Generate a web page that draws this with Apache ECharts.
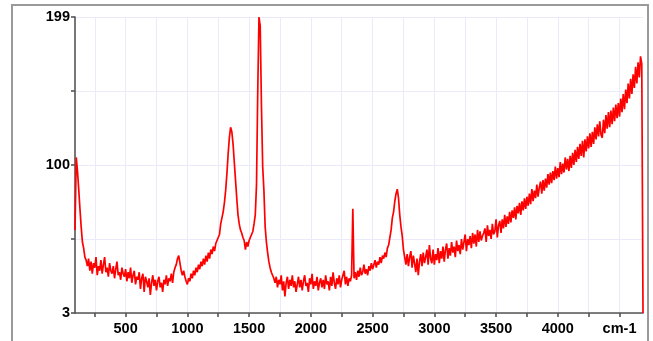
<!DOCTYPE html>
<html>
<head>
<meta charset="utf-8">
<script src="https://cdn.jsdelivr.net/npm/echarts@6.0.0/dist/echarts.min.js"></script>
<style>
  html, body { margin: 0; padding: 0; background: #fff; }
  #chart { width: 653px; height: 341px; }
</style>
</head>
<body>
<div id="chart"></div>
<script>
// wavenumber sampling (cm-1)
var waveStart = 90;
var waveStep = 10;
// intensity, one row = 200 cm-1
var intensity = [
  58,106,97,85,72,60,50,46,40,38,34,39,31,37,29,36,33,40,28,34,      // 90
  31,38,29,35,40,30,33,27,36,31,29,34,26,32,37,28,30,25,33,29,       // 290
  27,32,24,30,26,33,23,28,31,22,27,25,30,19,26,29,17,27,24,20,       // 490
  26,15,23,28,21,25,18,24,27,20,23,17,25,22,28,21,26,24,29,23,       // 690
  30,33,35,39,41,36,31,28,31,27,24,22,26,24,29,26,31,28,33,30,       // 890
  35,32,37,34,39,35,41,37,43,39,45,42,47,44,49,48,53,55,62,66,       // 1090
  70,76,84,95,108,119,126,123,115,103,91,79,68,62,58,56,53,51,45,50, // 1290
  47,51,52,55,57,62,68,88,150,199,193,140,100,84,60,50,43,37,33,30,  // 1490
  28,26,23,27,20,25,22,28,18,24,14,23,27,19,25,21,28,20,24,17,       // 1690
  22,27,20,25,18,24,28,21,23,17,26,22,29,19,24,21,27,18,23,26,       // 1890
  20,25,19,28,22,24,18,27,21,30,23,19,26,22,28,20,25,24,31,22,       // 2090
  27,21,26,24,28,72,26,30,25,31,27,33,28,30,35,29,32,28,34,31,       // 2290
  36,32,35,38,33,37,35,40,36,41,39,43,40,46,48,53,58,66,70,77,       // 2490
  82,85,79,68,60,54,45,40,35,42,34,40,44,33,41,36,30,39,28,37,       // 2690
  42,34,43,36,40,45,35,48,39,36,45,35,42,38,46,36,44,39,47,37,       // 2890
  45,49,39,46,41,50,43,47,40,51,44,48,42,52,45,50,55,44,52,48,       // 3090
  54,46,56,49,55,47,58,50,57,51,54,56,59,50,61,54,58,52,62,55,       // 3290
  57,65,53,61,64,56,65,59,68,60,67,62,70,63,71,66,73,65,74,69,       // 3490
  76,68,77,71,79,72,80,74,82,75,85,77,84,79,88,80,86,90,82,91,       // 3690
  84,92,86,95,88,96,89,97,91,100,92,99,93,103,95,102,96,106,98,105,  // 3890
  97,107,99,109,101,111,103,113,105,115,107,117,106,118,110,120,112,122,113,123, // 4090
  115,126,118,128,120,130,121,119,131,122,134,125,136,126,137,128,139,130,141,132, // 4290
  142,133,145,136,148,138,151,142,155,145,158,148,161,152,166,155,169,159,173,168, // 4490
  3                                                                   // 4690
];
// axis ticks and labels
var xTicks = [250,500,750,1000,1250,1500,1750,2000,2250,2500,2750,3000,3250,3500,3750,4000,4250,4500];
var xLabelValues = [500,1000,1500,2000,2500,3000,3500,4000,4500];
var xLabelText = ['500','1000','1500','2000','2500','3000','3500','4000','cm-1'];
var yTickLabels = ['3','','100','','199'];

var points = intensity.map(function (v, i) { return [waveStart + i * waveStep, v]; });

var labelFont = { color: '#000', fontFamily: 'Liberation Sans', fontWeight: 'bold', fontSize: 14.5 };
var axisGray = { color: '#555', width: 1.6 };
var gridLine = { color: '#eaeafa', width: 1 };

var myChart = echarts.init(document.getElementById('chart'));
myChart.setOption({
  animation: false,
  grid: { left: 75, top: 17, width: 568, height: 296 },
  graphic: [{
    type: 'rect', silent: true,
    shape: { x: 12, y: 5, width: 636, height: 345 },
    style: { fill: 'none', stroke: '#9a9a9a', lineWidth: 2 }
  }],
  xAxis: {
    type: 'value', min: waveStart, max: 4690,
    axisLine: { lineStyle: axisGray },
    axisTick: { show: true, length: 4, lineStyle: axisGray, customValues: xTicks },
    axisLabel: Object.assign({
      margin: 8, customValues: xLabelValues,
      formatter: function (v) { return xLabelText[xLabelValues.indexOf(v)] || ''; }
    }, labelFont),
    splitLine: { show: true, lineStyle: gridLine }
  },
  yAxis: {
    type: 'value', min: 3, max: 199, interval: 49,
    axisLine: { show: true, lineStyle: axisGray },
    axisTick: { show: true, length: 4, lineStyle: axisGray },
    axisLabel: Object.assign({
      margin: 5,
      formatter: function (v, i) { return yTickLabels[i] || ''; }
    }, labelFont),
    splitLine: { show: true, lineStyle: gridLine }
  },
  series: [{
    type: 'line', data: points, showSymbol: false, clip: true,
    lineStyle: { color: '#ff0000', width: 1.7 }
  }]
});
</script>
</body>
</html>
